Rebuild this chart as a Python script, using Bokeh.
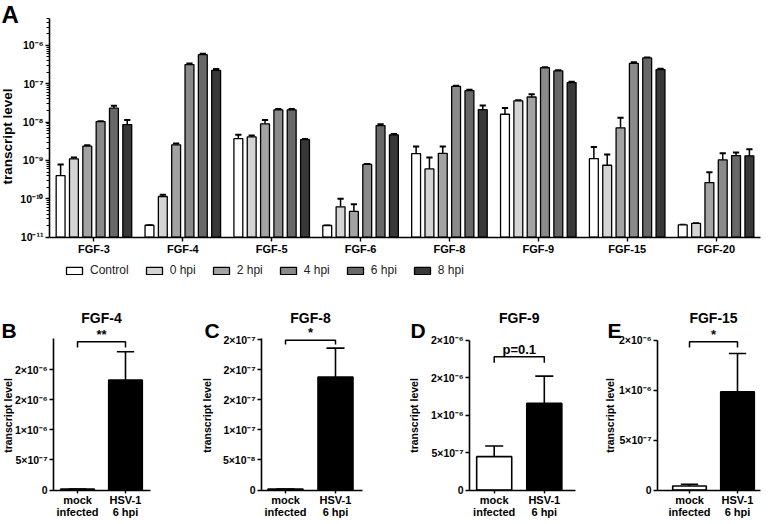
import math
from bokeh.plotting import figure
from bokeh.layouts import column, row
from bokeh.models import (Range1d, FixedTicker, CustomJSTickFormatter,
                          Legend, LegendItem, Label, ColumnDataSource)
from bokeh.transform import dodge
from bokeh.embed import file_html
from bokeh.resources import INLINE

FONT = "Liberation Sans"

# ---------------- Panel A data ----------------
genes = ["FGF-3", "FGF-4", "FGF-5", "FGF-6", "FGF-8", "FGF-9", "FGF-15", "FGF-20"]
series = ["Control", "0 hpi", "2 hpi", "4 hpi", "6 hpi", "8 hpi"]
colors = ["#ffffff", "#d4d4d4", "#a3a3a3", "#8a8a8a", "#686868", "#383838"]

control = [4.0e-10, 2.05e-11, 3.7e-9, 2.02e-11, 1.5e-9, 1.6e-8, 1.12e-9, 2.1e-11]
control_hi = [7.8e-10, 2.05e-11, 4.7e-9, 2.02e-11, 2.3e-9, 2.33e-8, 2.25e-9, 2.1e-11]
hpi0 = [1.1e-9, 1.15e-10, 4.1e-9, 6.2e-11, 6.0e-10, 3.57e-8, 7.5e-10, 2.3e-11]
hpi0_hi = [1.2e-9, 1.27e-10, 4.5e-9, 1.0e-10, 1.2e-9, 3.7e-8, 1.42e-9, 2.3e-11]
hpi2 = [2.35e-9, 2.55e-9, 9.0e-9, 4.7e-11, 1.53e-9, 4.5e-8, 7.1e-9, 2.65e-10]
hpi2_hi = [2.5e-9, 2.75e-9, 1.14e-8, 7.2e-11, 2.3e-9, 5.3e-8, 1.3e-8, 4.9e-10]
hpi4 = [1.03e-8, 3.15e-7, 2.08e-8, 7.9e-10, 8.5e-8, 2.6e-7, 3.4e-7, 1.04e-9]
hpi4_hi = [1.05e-8, 3.35e-7, 2.2e-8, 8.1e-10, 8.9e-8, 2.7e-7, 3.6e-7, 1.54e-9]
hpi6 = [2.3e-8, 5.7e-7, 2.08e-8, 8.1e-9, 6.6e-8, 2.15e-7, 4.7e-7, 1.34e-9]
hpi6_hi = [2.65e-8, 6.0e-7, 2.2e-8, 8.8e-9, 7.0e-8, 2.25e-7, 4.8e-7, 1.6e-9]
hpi8 = [8.6e-9, 2.23e-7, 3.5e-9, 4.64e-9, 2.1e-8, 1.07e-7, 2.33e-7, 1.32e-9]
hpi8_hi = [1.14e-8, 2.4e-7, 3.6e-9, 4.9e-9, 2.7e-8, 1.12e-7, 2.45e-7, 1.95e-9]

series_vals = [control, hpi0, hpi2, hpi4, hpi6, hpi8]
series_hi = [control_hi, hpi0_hi, hpi2_hi, hpi4_hi, hpi6_hi, hpi8_hi]

yA_min, yA_max = 1e-11, 5e-6
yA_ticks = [1e-11, 1e-10, 1e-9, 1e-8, 1e-7, 1e-6]
yA_labels = ["10⁻¹¹", "10⁻¹⁰", "10⁻⁹", "10⁻⁸", "10⁻⁷", "10⁻⁶"]

# ---------------- Panels B-E data ----------------
cond_labels = ["mock\ninfected", "HSV-1\n6 hpi"]
cond_fill = ["#ffffff", "#000000"]

B_vals = [1.5e-8, 1.83e-6]
B_hi = [1.5e-8, 2.3e-6]
C_vals = [1.5e-9, 1.88e-7]
C_hi = [1.5e-9, 2.36e-7]
D_vals = [4.45e-7, 1.156e-6]
D_hi = [5.87e-7, 1.52e-6]
E_vals = [4.0e-8, 9.84e-7]
E_hi = [5.7e-8, 1.367e-6]

B_ticks = [0, 5e-7, 1e-6, 1.5e-6, 2e-6]
B_tick_labels = ["0", "5×10⁻⁷", "1×10⁻⁶", "2×10⁻⁶", "2×10⁻⁶"]
B_ymax = 2.52e-6
C_ticks = [0, 5e-8, 1e-7, 1.5e-7, 2e-7, 2.5e-7]
C_tick_labels = ["0", "5×10⁻⁸", "1×10⁻⁷", "2×10⁻⁷", "2×10⁻⁷", "2×10⁻⁷"]
C_ymax = 2.52e-7
D_ticks = [0, 5e-7, 1e-6, 1.5e-6, 2e-6]
D_tick_labels = ["0", "5×10⁻⁷", "1×10⁻⁶", "2×10⁻⁶", "2×10⁻⁶"]
D_ymax = 2.0e-6
E_ticks = [0, 5e-7, 1e-6, 1.5e-6]
E_tick_labels = ["0", "5×10⁻⁷", "1×10⁻⁶", "2×10⁻⁶"]
E_ymax = 1.5e-6

# significance brackets: (top, leg bottom, text)
B_bracket = (2.465e-6, 2.37e-6, "**")
C_bracket = (2.49e-7, 2.42e-7, "*")
D_bracket = (1.78e-6, 1.70e-6, "p=0.1")
E_bracket = (1.484e-6, 1.427e-6, "*")

Y_TITLE = "transcript level"

FMT_CODE = """
let best = 0, bd = Infinity;
for (let i = 0; i < tks.length; i++) {
  const d = islog ? Math.abs(Math.log10(tks[i]) - Math.log10(tick)) : Math.abs(tks[i] - tick);
  if (d < bd) { bd = d; best = i; }
}
return lbls[best];
"""


def fmt(tks, lbls, islog=False):
    return CustomJSTickFormatter(args=dict(tks=list(tks), lbls=list(lbls), islog=islog), code=FMT_CODE)


def span(v_a, p_a, v_b, p_b, p_lo, p_hi):
    """values at pixel positions p_lo, p_hi for a linear map through (p_a, v_a), (p_b, v_b)"""
    k = (v_b - v_a) / (p_b - p_a)
    return v_a + k * (p_lo - p_a), v_a + k * (p_hi - p_a)


def style_axes(p, tick_size):
    for ax in (p.xaxis[0], p.yaxis[0]):
        ax.axis_line_width = 1.6
        ax.axis_line_color = "black"
        ax.major_tick_line_width = 1.4
        ax.major_tick_line_color = "black"
        ax.major_tick_in = 0
        ax.major_tick_out = 4
        ax.minor_tick_in = 0
        ax.minor_tick_out = 0
        ax.major_label_text_font = FONT
        ax.major_label_text_font_style = "bold"
        ax.major_label_text_font_size = tick_size
        ax.major_label_text_color = "black"
    p.xgrid.visible = False
    p.ygrid.visible = False
    p.outline_line_color = None


def ytitle(p, x_px, y_px_from_bottom, size):
    p.add_layout(Label(x=x_px, y=y_px_from_bottom, x_units="screen", y_units="screen",
                       text=Y_TITLE, angle=math.pi / 2, text_align="center", text_baseline="middle",
                       text_font=FONT, text_font_style="bold", text_font_size=size,
                       text_color="black"))


# ---------------- Panel A ----------------
WA, HA = 762, 290            # figure size; page origin x=8, y=0
ax_left, ax_right = 49, 760  # frame pixels of the x axis ends
ax_top, ax_bot = 18, 236.7   # frame pixels of 5e-6 and 1e-11
nA = len(genes)
xA0, xA1 = span(0, ax_left, nA, ax_right, 0, WA)
lA_lo, lA_hi = span(math.log10(yA_min), ax_bot, math.log10(yA_max), ax_top, HA, 0)

pA = figure(width=WA, height=HA, x_range=Range1d(xA0, xA1),
            y_range=Range1d(10 ** lA_lo, 10 ** lA_hi), y_axis_type="log",
            output_backend="svg", toolbar_location=None, title=None, min_border=0)
style_axes(pA, "10.5px")
pA.yaxis.fixed_location = 0
pA.yaxis.bounds = (yA_min, yA_max)
pA.xaxis.fixed_location = yA_min
pA.xaxis.bounds = (0, nA)
pA.yaxis.major_label_standoff = 2
minor = [m * 10.0 ** e for e in range(-11, -5) for m in range(2, 10)]
pA.yaxis.ticker = FixedTicker(ticks=yA_ticks, minor_ticks=[v for v in minor if v <= yA_max])
pA.yaxis.formatter = fmt(yA_ticks, yA_labels, True)
pA.yaxis.minor_tick_out = 3
pA.yaxis.minor_tick_line_width = 1
pA.yaxis.minor_tick_line_color = "black"
gene_x = [i + 0.5 for i in range(nA)]
pA.xaxis.ticker = FixedTicker(ticks=gene_x)
pA.xaxis.formatter = fmt(gene_x, genes)
pA.xaxis.major_label_standoff = 2
pA.xaxis.major_label_text_font_size = "11px"
ytitle(pA, 7, HA - 136, "13.5px")

items = []
for j, (name, vals, his, col) in enumerate(zip(series, series_vals, series_hi, colors)):
    off = (j - 2.5) * 0.15
    src = ColumnDataSource(dict(x=gene_x, val=vals, hi=his))
    pA.segment(x0=dodge("x", off), y0="val", x1=dodge("x", off), y1="hi",
               source=src, line_color="black", line_width=1.5)
    pA.segment(x0=dodge("x", off - 0.035), y0="hi", x1=dodge("x", off + 0.035), y1="hi",
               source=src, line_color="black", line_width=2)
    r = pA.vbar(x=dodge("x", off), top="val", bottom=yA_min,
                width=0.1, source=src, fill_color=col, line_color="black", line_width=1.3)
    items.append(LegendItem(label=name, renderers=[r]))

legend = Legend(items=items, orientation="horizontal", location=(64, 13),
                glyph_width=20, glyph_height=9, label_standoff=6, spacing=15,
                label_text_font=FONT, label_text_font_size="12px", label_text_color="#222222",
                border_line_color=None, background_fill_alpha=0, margin=0, padding=4)
pA.add_layout(legend, "center")

pA.add_layout(Label(x=1, y=HA - 14, x_units="screen", y_units="screen", text="A",
                    text_font=FONT, text_font_style="bold", text_font_size="24px",
                    text_baseline="middle", text_align="left", text_color="black"))

# ---------------- Panels B-E ----------------
HB = 232                     # page y 290 .. 522


def panel(letter, title, vals, his, ticks, tick_labels, ymax, bracket,
          width, ax_px, c0_px, unit_px, xend_px, top_px, letter_px, ytitle_px):
    zero_px = 199.5
    xs = list(range(len(cond_labels)))
    x_lo, x_hi = span(0, c0_px, 1, c0_px + unit_px, 0, width)
    x_axis0 = (ax_px - c0_px) / unit_px
    x_axis1 = (xend_px - c0_px) / unit_px
    y_lo, y_hi = span(0, zero_px, ymax, top_px, HB, 0)
    p = figure(width=width, height=HB, x_range=Range1d(x_lo, x_hi), y_range=Range1d(y_lo, y_hi),
               output_backend="svg", toolbar_location=None, title=None, min_border=0)
    style_axes(p, "10.5px")
    p.yaxis.fixed_location = x_axis0
    p.yaxis.bounds = (0, ymax)
    p.xaxis.fixed_location = 0
    p.xaxis.bounds = (x_axis0, x_axis1)
    p.yaxis.major_label_standoff = 2
    p.yaxis.ticker = FixedTicker(ticks=ticks)
    p.yaxis.formatter = fmt(ticks, tick_labels)
    p.xaxis.ticker = FixedTicker(ticks=xs)
    p.xaxis.formatter = fmt(xs, cond_labels)
    p.xaxis.major_tick_out = 3
    p.xaxis.major_label_standoff = 1
    p.xaxis.major_label_text_font_size = "11px"
    p.xaxis.major_label_text_line_height = 1.0
    ytitle(p, ytitle_px, HB - 125, "10.5px")
    src = ColumnDataSource(dict(x=xs, val=vals, hi=his, fill=cond_fill))
    p.segment(x0="x", y0="val", x1="x", y1="hi", source=src, line_color="black", line_width=1.6)
    p.segment(x0=dodge("x", -0.18), y0="hi", x1=dodge("x", 0.18), y1="hi", source=src,
              line_color="black", line_width=1.6)
    p.vbar(x="x", top="val", bottom=0, width=0.7, fill_color="fill", line_color="black",
           line_width=1.6, source=src)
    top, leg, txt = bracket
    p.multi_line(xs=[[xs[0], xs[0], xs[1], xs[1]]], ys=[[leg, top, top, leg]],
                 line_color="black", line_width=1.5)
    p.add_layout(Label(x=(xs[0] + xs[1]) / 2, y=top, text=txt, text_align="center",
                       text_baseline="bottom", y_offset=0, text_font=FONT, text_font_style="bold",
                       text_font_size="13px", text_color="black"))
    p.add_layout(Label(x=(xs[0] + xs[1]) / 2, y=HB - 27, y_units="screen", text=title,
                       text_align="center", text_baseline="middle", text_font=FONT,
                       text_font_style="bold", text_font_size="14px", text_color="black"))
    p.add_layout(Label(x=letter_px, y=HB - 40, x_units="screen", y_units="screen", text=letter,
                       text_font=FONT, text_font_style="bold", text_font_size="21px",
                       text_baseline="middle", text_align="left", text_color="black"))
    return p


# page x of figures: B 8..207, C 207..415, D 415..605, E 605..770
pB = panel("B", "FGF-4", B_vals, B_hi, B_ticks, B_tick_labels, B_ymax, B_bracket,
           199, 53, 77, 48, 150, 48, 1, 7)
pC = panel("C", "FGF-8", C_vals, C_hi, C_ticks, C_tick_labels, C_ymax, C_bracket,
           208, 62, 86, 50, 163, 48, 5, 7)
pD = panel("D", "FGF-9", D_vals, D_hi, D_ticks, D_tick_labels, D_ymax, D_bracket,
           190, 62, 86.7, 50.1, 168, 49.7, 3, 6)
pE = panel("E", "FGF-15", E_vals, E_hi, E_ticks, E_tick_labels, E_ymax, E_bracket,
           165, 60, 92, 48, 163, 49.7, 10, 12)

layout = column(pA, row(pB, pC, pD, pE))
open("out.html", "w").write(file_html(layout, INLINE))
